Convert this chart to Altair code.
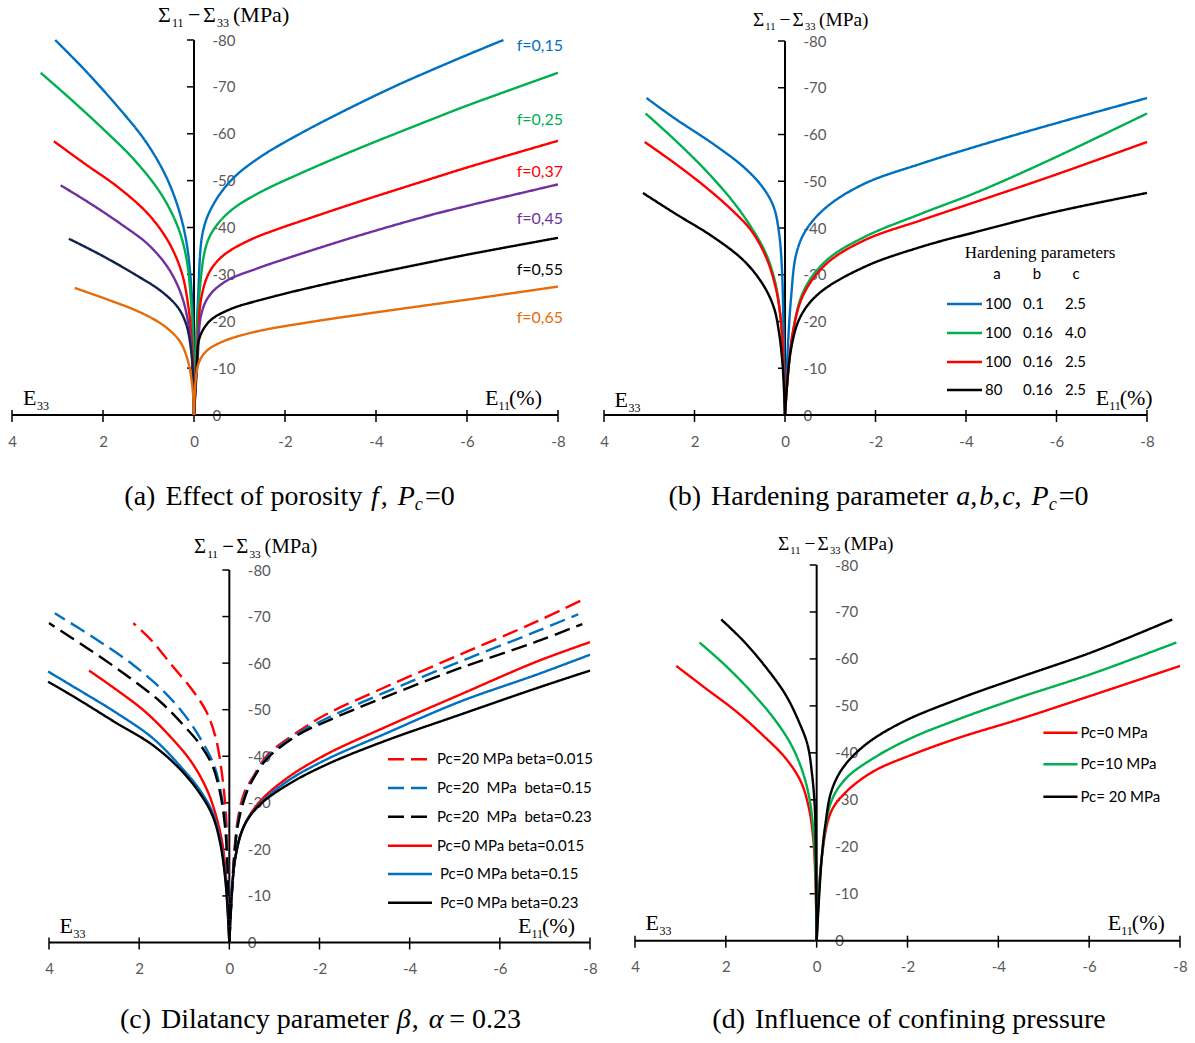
import altair as alt
import pandas as pd

# ---------------- axis ticks ----------------
X_TICKS = [4, 2, 0, -2, -4, -6, -8]
Y_TICKS = [0, -10, -20, -30, -40, -50, -60, -70, -80]

# ---------------- (a) effect of porosity f : (E %, Sigma11-Sigma33 MPa) ----------------
a_f015_left = [(0, 0), (0.02, -17.9), (0.07, -28.6), (0.17, -37.1), (0.35, -44.3), (0.64, -51.4),
               (1.08, -58.6), (1.67, -65.7), (2.40, -73.6), (3.05, -80.0)]
a_f015_right = [(0, 0), (-0.09, -25.0), (-0.20, -39.3), (-0.43, -45.0), (-0.86, -50.5), (-1.45, -55.0),
                (-2.33, -60.0), (-3.53, -66.0), (-4.50, -70.5), (-5.18, -73.4), (-6.00, -76.8), (-6.80, -80.0)]
a_f025_left = [(0, 0), (0.015, -14.3), (0.07, -25.0), (0.17, -33.6), (0.35, -40.0), (0.72, -47.1),
               (1.30, -54.3), (2.04, -61.4), (2.77, -67.9), (3.37, -73.0)]
a_f025_right = [(0, 0), (-0.11, -25.0), (-0.28, -36.5), (-0.50, -40.5), (-0.86, -44.0), (-1.45, -47.5),
                (-2.33, -51.5), (-3.53, -56.5), (-5.18, -62.9), (-6.00, -66.0), (-8.00, -73.0)]
a_f037_left = [(0, 0), (0.04, -14.3), (0.13, -23.6), (0.28, -30.7), (0.57, -37.1), (1.01, -42.9),
               (1.67, -48.6), (2.40, -53.6), (3.08, -58.4)]
a_f037_right = [(0, 0), (-0.08, -15.0), (-0.16, -25.0), (-0.34, -30.5), (-0.64, -34.0), (-1.22, -37.3),
                (-1.88, -39.8), (-2.33, -41.3), (-3.53, -45.2), (-5.18, -50.3), (-6.00, -52.8), (-8.00, -58.5)]
a_f045_left = [(0, 0), (0.04, -12.1), (0.12, -19.3), (0.28, -25.7), (0.57, -31.4), (1.01, -36.4),
               (1.60, -40.7), (2.26, -45.0), (2.93, -49.0)]
a_f045_right = [(0, 0), (-0.08, -12.0), (-0.16, -21.5), (-0.34, -25.5), (-0.71, -28.6), (-1.37, -31.2),
                (-1.88, -32.9), (-3.53, -38.0), (-5.18, -42.6), (-6.00, -44.6), (-8.00, -49.2)]
a_f055_left = [(0, 0), (0.015, -7.1), (0.07, -14.3), (0.17, -19.3), (0.35, -22.9), (0.72, -26.4),
               (1.30, -30.0), (2.04, -34.1), (2.75, -37.6)]
a_f055_right = [(0, 0), (-0.06, -10.0), (-0.12, -16.4), (-0.34, -20.0), (-0.78, -22.5), (-1.52, -24.7),
                (-2.47, -27.0), (-3.53, -29.3), (-5.18, -32.6), (-6.00, -34.2), (-8.00, -37.8)]
a_f065_left = [(0, 0), (0.015, -3.6), (0.06, -7.9), (0.15, -12.1), (0.31, -15.7), (0.64, -18.9),
               (1.16, -21.8), (1.89, -24.6), (2.62, -27.1)]
a_f065_right = [(0, 0), (-0.09, -10.7), (-0.27, -13.6), (-0.64, -15.7), (-1.37, -17.8), (-2.47, -19.7),
                (-3.64, -21.4), (-5.18, -23.5), (-6.00, -24.6), (-8.00, -27.4)]
a_labels = ["f=0,15", "f=0,25", "f=0,37", "f=0,45", "f=0,55", "f=0,65"]

# ---------------- (b) hardening parameters a, b, c ----------------
b_1_left = [(0, 0), (0.03, -17.5), (0.07, -31.7), (0.13, -38.8), (0.25, -44.5), (0.50, -48.8),
            (0.92, -53.1), (1.59, -58.0), (2.43, -63.4), (3.06, -67.8)]
b_1_right = [(0, 0), (-0.05, -12.0), (-0.13, -24.6), (-0.25, -34.5), (-0.46, -39.5), (-0.92, -44.5),
             (-1.76, -49.5), (-3.02, -53.8), (-4.28, -57.6), (-5.95, -62.3), (-8.00, -67.8)]
b_2_left = [(0, 0), (0.03, -10.3), (0.10, -21.0), (0.21, -28.1), (0.42, -34.5), (0.75, -40.2),
            (1.17, -45.9), (1.76, -52.4), (2.43, -58.8), (3.08, -64.5)]
b_2_right = [(0, 0), (-0.17, -17.5), (-0.42, -26.7), (-0.92, -33.1), (-1.76, -38.1), (-3.02, -43.1),
             (-4.28, -47.8), (-5.95, -55.0), (-8.00, -64.5)]
b_3_left = [(0, 0), (0.03, -10.3), (0.10, -21.0), (0.21, -27.4), (0.42, -33.8), (0.75, -39.5),
            (1.17, -43.8), (1.76, -48.8), (2.43, -53.8), (3.10, -58.4)]
b_3_right = [(0, 0), (-0.17, -17.5), (-0.42, -26.0), (-0.92, -32.4), (-1.76, -37.4), (-3.02, -41.7),
             (-4.28, -45.8), (-5.95, -51.3), (-8.00, -58.4)]
b_4_left = [(0, 0), (0.05, -10.3), (0.13, -17.5), (0.25, -23.1), (0.50, -28.1), (0.92, -33.1),
            (1.59, -38.1), (2.43, -43.1), (3.14, -47.5)]
b_4_right = [(0, 0), (-0.13, -13.9), (-0.34, -21.0), (-0.75, -26.0), (-1.76, -31.7), (-3.02, -36.0),
             (-4.28, -39.3), (-5.95, -43.4), (-8.00, -47.5)]
b_rows = [("100", "0.1", "2.5"), ("100", "0.16", "4.0"), ("100", "0.16", "2.5"), ("80", "0.16", "2.5")]

# ---------------- (c) dilatancy parameter beta ----------------
c_d015_left = [(0, 0), (0.03, -18.1), (0.085, -28.8), (0.17, -36.7), (0.30, -43.9), (0.51, -49.6),
               (0.85, -54.6), (1.28, -59.6), (1.70, -64.6), (2.13, -68.6)]
c_d015_right = [(0, 0), (-0.17, -25.3), (-0.34, -32.4), (-0.51, -35.3), (-0.85, -40.3), (-1.53, -45.3),
                (-2.13, -48.9), (-3.40, -54.6), (-5.11, -61.8), (-6.81, -68.9), (-7.83, -73.6)]
c_d15_left = [(0, 0), (0.026, -14.5), (0.085, -25.3), (0.19, -32.4), (0.34, -38.1), (0.60, -43.1),
              (0.94, -48.2), (1.45, -53.9), (2.13, -59.6), (2.98, -65.3), (3.87, -70.7)]
c_d15_right = [(0, 0), (-0.17, -24.5), (-0.34, -31.5), (-0.51, -35.0), (-0.85, -39.9), (-1.53, -44.9),
               (-2.13, -48.0), (-3.40, -53.5), (-5.11, -60.3), (-6.81, -66.8), (-7.74, -70.5)]
c_d23_left = [(0, 0), (0.034, -14.5), (0.10, -25.3), (0.21, -32.4), (0.38, -38.1), (0.64, -42.4),
              (1.02, -46.7), (1.53, -51.7), (2.30, -57.5), (3.15, -63.2), (4.00, -68.6)]
c_d23_right = [(0, 0), (-0.17, -24.0), (-0.34, -31.0), (-0.51, -34.8), (-0.85, -39.6), (-1.53, -44.6),
               (-2.13, -47.4), (-3.40, -52.5), (-5.11, -58.9), (-6.81, -64.6), (-7.83, -68.4)]
c_s015_left = [(0, 0), (0.06, -12.4), (0.15, -21.0), (0.30, -27.4), (0.51, -33.1), (0.85, -38.9),
               (1.28, -43.9), (1.87, -49.6), (2.55, -54.6), (3.11, -58.4)]
c_s015_right = [(0, 0), (-0.13, -18.1), (-0.34, -25.3), (-0.68, -30.3), (-1.28, -35.3), (-2.13, -40.3),
                (-3.40, -46.0), (-5.11, -53.2), (-6.81, -60.3), (-8.00, -64.5)]
c_s15_left = [(0, 0), (0.085, -13.8), (0.21, -22.4), (0.38, -28.1), (0.68, -33.1), (1.11, -38.1),
              (1.70, -43.9), (2.55, -49.6), (3.40, -54.6), (4.02, -58.2)]
c_s15_right = [(0, 0), (-0.13, -18.1), (-0.34, -25.3), (-0.68, -29.8), (-1.28, -34.6), (-2.13, -39.2),
               (-3.40, -44.6), (-5.11, -51.7), (-6.81, -57.5), (-8.00, -61.8)]
c_s23_left = [(0, 0), (0.085, -13.1), (0.21, -21.7), (0.38, -27.4), (0.68, -32.4), (1.11, -37.4),
              (1.70, -42.4), (2.55, -47.4), (3.40, -52.5), (4.02, -56.0)]
c_s23_right = [(0, 0), (-0.13, -18.1), (-0.34, -25.3), (-0.68, -29.6), (-1.28, -33.8), (-2.13, -38.1),
               (-3.40, -43.1), (-5.11, -48.9), (-6.81, -54.6), (-8.00, -58.4)]
NB = "\u00a0"
c_names = ["Pc=20 MPa beta=0.015", "Pc=20" + NB + " MPa" + NB + " beta=0.15", "Pc=20" + NB + " MPa" + NB + " beta=0.23",
           "Pc=0 MPa beta=0.015", "Pc=0 MPa beta=0.15", "Pc=0 MPa beta=0.23"]

# ---------------- (d) confining pressure ----------------
d_0_left = [(0, 0), (0.025, -11.9), (0.07, -21.1), (0.17, -28.2), (0.35, -33.9), (0.68, -38.8),
            (1.19, -43.8), (1.77, -48.8), (2.44, -53.7), (3.09, -58.5)]
d_0_right = [(0, 0), (-0.11, -17.5), (-0.32, -27.5), (-0.65, -31.7), (-1.24, -36.0), (-2.07, -39.5),
             (-3.16, -43.3), (-4.41, -47.0), (-6.08, -52.3), (-8.00, -58.5)]
d_10_left = [(0, 0), (0.025, -14.0), (0.07, -23.2), (0.16, -30.3), (0.31, -36.0), (0.56, -41.7),
             (0.94, -47.3), (1.44, -53.0), (2.02, -58.7), (2.58, -63.5)]
d_10_right = [(0, 0), (-0.11, -17.5), (-0.32, -29.6), (-0.65, -34.6), (-1.24, -38.8), (-2.07, -43.1),
              (-3.16, -47.3), (-4.41, -51.6), (-6.08, -56.9), (-7.92, -63.5)]
d_20_left = [(0, 0), (0.017, -17.5), (0.04, -28.2), (0.10, -35.3), (0.20, -41.7), (0.39, -46.6),
             (0.68, -52.3), (1.10, -58.0), (1.60, -63.7), (2.10, -68.4)]
d_20_right = [(0, 0), (-0.11, -17.5), (-0.19, -24.6), (-0.32, -31.7), (-0.57, -36.7), (-1.07, -41.7),
              (-1.90, -46.6), (-3.16, -51.6), (-4.41, -55.9), (-6.08, -61.5), (-7.83, -68.4)]
d_names = ["Pc=0 MPa", "Pc=10 MPa", "Pc= 20 MPa"]

# ---------------- styling ----------------
BLUE, GREEN, RED = "#0070C0", "#00B050", "#FF0000"
PURPLE, NAVY, BLACK, ORANGE = "#7030A0", "#13224D", "#000000", "#E46C0A"
GRAY = "#595959"
SERIF = "Liberation Serif"
SANS = "Lato"
DASH = [16, 7]
CAP = 28

ONE = alt.Data(values=[{"k": 0}])

# approximate Times advance widths (1/1000 em) used to lay caption pieces side by side
TW = {" ": 250, "(": 333, ")": 333, ",": 250, ".": 250, "=": 564, "a": 444, "b": 500, "c": 444, "d": 500,
      "e": 444, "f": 333, "g": 500, "h": 500, "i": 278, "l": 278, "m": 778, "n": 500, "o": 500, "p": 500,
      "r": 333, "s": 389, "t": 278, "u": 500, "y": 500, "E": 611, "H": 722, "D": 722, "I": 333, "P": 556}
TWI = {"f": 278, "P": 611, "c": 444, "a": 500, "b": 500, "β": 500, "α": 520}


def tw(s, size, italic):
    tab = TWI if italic else TW
    return sum(tab.get(ch, TW.get(ch, 500)) for ch in s) * size / 1000.0


def txt(s, x, y, size=15, font=SANS, color="black", style="normal", align="left", baseline="alphabetic"):
    return alt.Chart(ONE).mark_text(text=s, font=font, fontSize=size, fontStyle=style, color=color,
                                    align=align, baseline=baseline).encode(x=alt.value(x), y=alt.value(y))


def caption(pieces, center, yb):
    total = sum(tw(t, CAP * sc, it) + gap for t, it, sc, dy, gap in pieces)
    x = center - total / 2
    out = []
    for t, it, sc, dy, gap in pieces:
        out.append(txt(t, x, yb + dy, CAP * sc, SERIF, style="italic" if it else "normal"))
        x += tw(t, CAP * sc, it) + gap
    return out


def swatch(x1, x2, y, color, dashed=False, width=2.5):
    kw = dict(color=color, strokeWidth=width)
    if dashed:
        kw["strokeDash"] = DASH
    return alt.Chart(ONE).mark_rule(**kw).encode(x=alt.value(x1), x2=alt.value(x2), y=alt.value(y))


def stress_title(x0, yb, s):
    return [txt("Σ", x0, yb, 22 * s, SERIF), txt("11", x0 + 14 * s, yb + 5 * s, 12 * s, SERIF),
            txt("−", x0 + 30 * s, yb, 22 * s, SERIF), txt("Σ", x0 + 45 * s, yb, 22 * s, SERIF),
            txt("33", x0 + 59 * s, yb + 5 * s, 12 * s, SERIF), txt("(MPa)", x0 + 75 * s, yb, 22 * s, SERIF)]


def e33(x, yb):
    return [txt("E", x, yb, 22, SERIF), txt("33", x + 14, yb + 5, 12, SERIF)]


def e11(x, yb):
    return [txt("E", x, yb, 22, SERIF), txt("11", x + 13.5, yb + 5, 12, SERIF), txt("(%)", x + 24, yb, 22, SERIF)]


def series_df(series):
    rows, keys, colors = [], [], []
    for name, pts, color, dash in series:
        keys.append(name)
        colors.append(color)
        for i, (e, s) in enumerate(pts):
            rows.append({"E": e, "S": s, "key": name, "i": i, "dash": dash})
    return pd.DataFrame(rows), keys, colors


LABEL_EXPR = "datum.value < 0 ? '-' + abs(datum.value) : '' + datum.value"


def panel(W, H, px4, pxm8, py0, py80, series, extras):
    ppx = (pxm8 - px4) / 12.0
    ppy = (py0 - py80) / 80.0
    e_left = 4 + px4 / ppx
    e_right = 4 - (W - px4) / ppx
    s_top = -py0 / ppy
    s_bot = (H - py0) / ppy
    px0 = px4 + 4 * ppx
    xs = alt.Scale(domain=[e_right, e_left], reverse=True, nice=False, zero=False)
    ys = alt.Scale(domain=[s_top, s_bot], reverse=True, nice=False, zero=False)
    xaxis = alt.Axis(orient="bottom", offset=py0 - H, values=X_TICKS, ticks=False, domain=False, grid=False,
                     title=None, labelPadding=19, labelFont=SANS, labelFontSize=15, labelColor=GRAY,
                     labelExpr=LABEL_EXPR, labelFlush=False, labelOverlap=False)
    yaxis = alt.Axis(orient="left", offset=-px0, values=Y_TICKS, ticks=False, domain=False, grid=False,
                     title=None, labelPadding=-18, labelAlign="left", labelFont=SANS, labelFontSize=15,
                     labelColor=GRAY, labelExpr=LABEL_EXPR, labelFlush=False, labelOverlap=False)
    X = lambda f: alt.X(f, scale=xs, axis=xaxis)
    Y = lambda f: alt.Y(f, scale=ys, axis=yaxis)

    xline = alt.Chart(alt.Data(values=[{"E": max(X_TICKS), "E2": min(X_TICKS), "S": 0}])).mark_rule(
        color="black", strokeWidth=2).encode(x=X("E:Q"), x2="E2:Q", y=Y("S:Q"))
    yline = alt.Chart(alt.Data(values=[{"E": 0, "S": 0, "S2": min(Y_TICKS)}])).mark_rule(
        color="black", strokeWidth=2).encode(x=X("E:Q"), y=Y("S:Q"), y2="S2:Q")
    xt = alt.Chart(pd.DataFrame({"E": X_TICKS})).mark_rule(color="black", strokeWidth=1.5).encode(
        x=X("E:Q"), y=alt.value(py0 - 5), y2=alt.value(py0 + 7))
    yt = alt.Chart(pd.DataFrame({"S": Y_TICKS[1:]})).mark_rule(color="black", strokeWidth=1.5).encode(
        y=Y("S:Q"), x=alt.value(px0 - 7), x2=alt.value(px0))

    df, keys, colors = series_df(series)
    lines = alt.Chart(df).mark_line(strokeWidth=2.4, interpolate="catmull-rom").encode(
        x=X("E:Q"), y=Y("S:Q"),
        color=alt.Color("key:N", scale=alt.Scale(domain=keys, range=colors), legend=None),
        strokeDash=alt.StrokeDash("dash:N", scale=alt.Scale(domain=["solid", "dash"], range=[[1, 0], DASH]),
                                  legend=None),
        detail="key:N", order="i:Q")
    return alt.layer(xline, yline, xt, yt, lines, *extras).properties(width=W, height=H)


# ---------------- panel (a) ----------------
a_series = [
    ("f015L", a_f015_left, BLUE, "solid"), ("f015R", a_f015_right, BLUE, "solid"),
    ("f025L", a_f025_left, GREEN, "solid"), ("f025R", a_f025_right, GREEN, "solid"),
    ("f037L", a_f037_left, RED, "solid"), ("f037R", a_f037_right, RED, "solid"),
    ("f045L", a_f045_left, PURPLE, "solid"), ("f045R", a_f045_right, PURPLE, "solid"),
    ("f055L", a_f055_left, NAVY, "solid"), ("f055R", a_f055_right, BLACK, "solid"),
    ("f065L", a_f065_left, ORANGE, "solid"), ("f065R", a_f065_right, ORANGE, "solid"),
]
a_label_colors = [BLUE, GREEN, RED, PURPLE, BLACK, ORANGE]
a_label_y = [46, 120, 172, 219, 270, 318]
a_extras = []
for lab, col, yy in zip(a_labels, a_label_colors, a_label_y):
    a_extras.append(txt(lab, 563, yy, 16, SANS, col, align="right", baseline="middle"))
a_extras += stress_title(158, 22, 1.0) + e33(23, 405) + e11(485, 405)
a_extras += caption([("(a)", False, 1, 0, 10), ("Effect of porosity", False, 1, 0, 8), ("f", True, 1, 0, 2),
                     (",", False, 1, 0, 10), ("P", True, 1, 0, 0), ("c", True, 0.65, 5, 2),
                     ("=0", False, 1, 0, 0)], 289.5, 505)
pa = panel(597, 521, 12, 558, 415, 40, a_series, a_extras)

# ---------------- panel (b) ----------------
b_series = [
    ("b1L", b_1_left, BLUE, "solid"), ("b1R", b_1_right, BLUE, "solid"),
    ("b2L", b_2_left, GREEN, "solid"), ("b2R", b_2_right, GREEN, "solid"),
    ("b3L", b_3_left, RED, "solid"), ("b3R", b_3_right, RED, "solid"),
    ("b4L", b_4_left, BLACK, "solid"), ("b4R", b_4_right, BLACK, "solid"),
]
b_colors = [BLUE, GREEN, RED, BLACK]
b_row_y = [304, 333, 362, 390]
b_extras = [txt("Hardening parameters", 443, 253, 17, SERIF, align="center", baseline="middle"),
            txt("a", 400, 274, 15, SANS, align="center", baseline="middle"),
            txt("b", 440, 274, 15, SANS, align="center", baseline="middle"),
            txt("c", 479, 274, 15, SANS, align="center", baseline="middle")]
for (va, vb, vc), col, yy in zip(b_rows, b_colors, b_row_y):
    b_extras += [swatch(350, 385, yy, col), txt(va, 388, yy, 15, SANS, baseline="middle"),
                 txt(vb, 426, yy, 15, SANS, baseline="middle"), txt(vc, 468, yy, 15, SANS, baseline="middle")]
b_extras += stress_title(156, 26, 0.88) + e33(17.6, 407) + e11(498.7, 405)
b_extras += caption([("(b)", False, 1, 0, 10), ("Hardening parameter", False, 1, 0, 8), ("a", True, 1, 0, 0),
                     (",", False, 1, 0, 2), ("b", True, 1, 0, 0), (",", False, 1, 0, 2), ("c", True, 1, 0, 0),
                     (",", False, 1, 0, 10), ("P", True, 1, 0, 0), ("c", True, 0.65, 5, 2),
                     ("=0", False, 1, 0, 0)], 281.5, 505)
pb = panel(598, 521, 7, 550, 415, 41, b_series, b_extras)

# ---------------- panel (c) ----------------
c_series = [
    ("s015L", c_s015_left, RED, "solid"), ("s015R", c_s015_right, RED, "solid"),
    ("s15L", c_s15_left, BLUE, "solid"), ("s15R", c_s15_right, BLUE, "solid"),
    ("s23L", c_s23_left, BLACK, "solid"), ("s23R", c_s23_right, BLACK, "solid"),
    ("d015L", c_d015_left, RED, "dash"), ("d015R", c_d015_right, RED, "dash"),
    ("d15L", c_d15_left, BLUE, "dash"), ("d15R", c_d15_right, BLUE, "dash"),
    ("d23L", c_d23_left, BLACK, "dash"), ("d23R", c_d23_right, BLACK, "dash"),
]
c_colors = [RED, BLUE, BLACK, RED, BLUE, BLACK]
c_dashed = [True, True, True, False, False, False]
c_row_y = [238.3, 267, 295.7, 324.7, 353, 381.7]
c_text_x = [437, 437, 437, 437, 440, 440]
c_extras = []
for name, col, dsh, yy, tx in zip(c_names, c_colors, c_dashed, c_row_y, c_text_x):
    c_extras += [swatch(388, 432, yy, col, dsh), txt(name, tx, yy, 15, SANS, baseline="middle")]
c_extras += stress_title(194, 32, 0.94) + e33(59.5, 412) + e11(518, 412)
c_extras += caption([("(c)", False, 1, 0, 10), ("Dilatancy parameter", False, 1, 0, 8), ("β", True, 1, 0, 1),
                     (",", False, 1, 0, 10), ("α", True, 1, 0, 6), ("= 0.23", False, 1, 0, 0)], 320.5, 507)
pc = panel(597, 522, 49, 590, 421.5, 49, c_series, c_extras)

# ---------------- panel (d) ----------------
d_series = [
    ("p0L", d_0_left, RED, "solid"), ("p0R", d_0_right, RED, "solid"),
    ("p10L", d_10_left, GREEN, "solid"), ("p10R", d_10_right, GREEN, "solid"),
    ("p20L", d_20_left, BLACK, "solid"), ("p20R", d_20_right, BLACK, "solid"),
]
d_colors = [RED, GREEN, BLACK]
d_row_y = [211.7, 243.3, 275.7]
d_extras = []
for name, col, yy in zip(d_names, d_colors, d_row_y):
    d_extras += [swatch(446.4, 480.5, yy, col), txt(name, 483.5, yy, 15, SANS, baseline="middle")]
d_extras += stress_title(181, 29, 0.88) + e33(48.4, 409) + e11(510.8, 409)
d_extras += caption([("(d)", False, 1, 0, 10), ("Influence of confining pressure", False, 1, 0, 0)], 312, 507)
pd_ = panel(598, 522, 38, 583, 419.7, 44, d_series, d_extras)

chart = alt.concat(pa, pb, pc, pd_, columns=2, spacing=0, bounds="flush").resolve_scale(
    color="independent", strokeDash="independent").properties(
    padding=0, background="white").configure_view(stroke=None)

chart.save("out.html", embed_options={"renderer": "svg", "actions": False})
